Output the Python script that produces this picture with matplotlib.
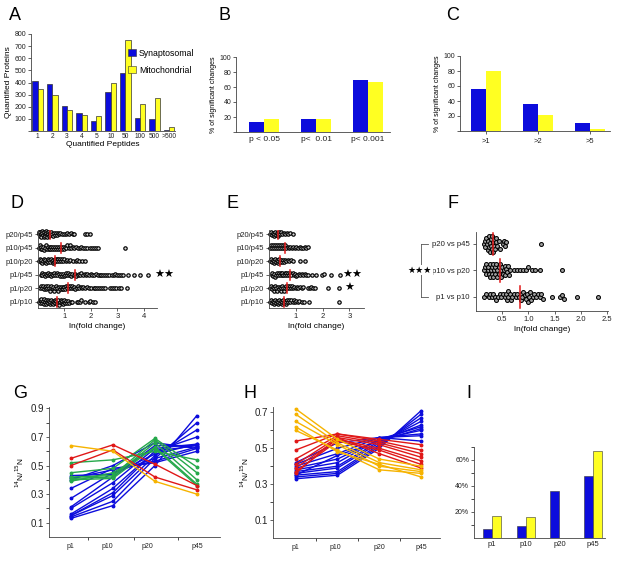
import numpy as np
import matplotlib
matplotlib.use('Agg')
import matplotlib.pyplot as plt
from matplotlib.lines import Line2D
from matplotlib.patches import Patch

plt.rcParams['font.family'] = ['Liberation Sans', 'DejaVu Sans']

W, H = 624, 562
BLUE = '#0c0cdc'
YELLOW = '#ffff22'
RED = '#e01818'
ORANGE = '#f6b300'
GREEN = '#25a84a'

# --- A: quantified proteins per number of quantified peptides ---
pep_bins = ['1', '2', '3', '4', '5', '10', '50', '100', '500', '>500']
syn_proteins = [410, 390, 205, 145, 85, 320, 475, 110, 100, 12]
mito_proteins = [350, 300, 170, 135, 120, 400, 750, 220, 270, 30]

# --- B / C: % of significant changes ---
p_labels = ['p < 0.05', 'p<  0.01', 'p< 0.001']
syn_p = [14, 17, 70]
mito_p = [17, 18, 67]
fold_labels = ['>1', '>2', '>5']
syn_fold = [56, 36, 11]
mito_fold = [80, 21, 3]

# --- D / E: ln(fold change) per comparison (bottom row first) ---
ratio_labels = ['p1/p10', 'p1/p20', 'p1/p45', 'p10/p20', 'p10/p45', 'p20/p45']
d_p1_p10 = [0.04, 0.06, 0.09, 0.12, 0.13, 0.16, 0.2, 0.21, 0.24, 0.27, 0.29, 0.3, 0.34, 0.37, 0.39,
            0.42, 0.44, 0.47, 0.5, 0.52, 0.55, 0.58, 0.6, 0.63, 0.66, 0.68, 0.71, 0.74, 0.77, 0.79,
            0.81, 0.84, 0.86, 0.89, 0.92, 0.95, 0.97, 1.0, 1.03, 1.06, 1.1, 1.14, 1.18, 1.23, 1.3,
            1.46, 1.53, 1.6, 1.64, 1.79, 1.93, 1.98, 2.09, 2.17]
d_p1_p20 = [0.08, 0.11, 0.15, 0.18, 0.21, 0.25, 0.29, 0.31, 0.35, 0.39, 0.42, 0.45, 0.49, 0.51, 0.55,
            0.58, 0.61, 0.65, 0.69, 0.72, 0.75, 0.78, 0.82, 0.86, 0.89, 0.93, 0.96, 1.0, 1.03, 1.06,
            1.1, 1.14, 1.17, 1.21, 1.26, 1.29, 1.33, 1.38, 1.41, 1.46, 1.5, 1.56, 1.61, 1.66, 1.72,
            1.79, 1.85, 1.93, 2.01, 2.1, 2.17, 2.24, 2.31, 2.38, 2.46, 2.53, 2.72, 2.79, 2.88, 2.96,
            3.05, 3.14, 3.36]
d_p1_p45 = [0.1, 0.14, 0.17, 0.22, 0.26, 0.29, 0.34, 0.38, 0.41, 0.46, 0.5, 0.53, 0.58, 0.62, 0.66,
            0.7, 0.73, 0.78, 0.82, 0.86, 0.9, 0.93, 0.97, 1.02, 1.06, 1.1, 1.13, 1.17, 1.22, 1.26,
            1.3, 1.35, 1.4, 1.44, 1.5, 1.55, 1.6, 1.64, 1.7, 1.76, 1.82, 1.87, 1.94, 2.0, 2.05,
            2.12, 2.18, 2.25, 2.33, 2.4, 2.47, 2.55, 2.62, 2.69, 2.78, 2.86, 2.92, 3.0, 3.08, 3.15,
            3.23, 3.41, 3.62, 3.86, 4.15]
d_p10_p20 = [0.04, 0.07, 0.1, 0.12, 0.16, 0.19, 0.21, 0.25, 0.28, 0.3, 0.34, 0.37, 0.39, 0.43, 0.46,
             0.49, 0.52, 0.55, 0.57, 0.6, 0.63, 0.66, 0.7, 0.73, 0.77, 0.8, 0.84, 0.88, 0.92, 0.96,
             1.0, 1.05, 1.1, 1.16, 1.22, 1.31, 1.42, 1.48, 1.56, 1.68, 1.76]
d_p10_p45 = [0.04, 0.07, 0.1, 0.13, 0.17, 0.2, 0.23, 0.27, 0.3, 0.33, 0.37, 0.4, 0.44, 0.47, 0.51,
             0.54, 0.58, 0.61, 0.65, 0.68, 0.72, 0.75, 0.79, 0.82, 0.86, 0.9, 0.94, 0.98, 1.02, 1.07,
             1.11, 1.16, 1.2, 1.25, 1.31, 1.37, 1.43, 1.5, 1.57, 1.63, 1.7, 1.78, 1.86, 1.95, 2.03,
             2.12, 2.2, 2.28, 3.3]
d_p20_p45 = [0.03, 0.05, 0.07, 0.09, 0.11, 0.13, 0.15, 0.17, 0.19, 0.21, 0.23, 0.25, 0.27, 0.29, 0.31,
             0.33, 0.35, 0.37, 0.39, 0.41, 0.44, 0.47, 0.5, 0.53, 0.56, 0.59, 0.63, 0.67, 0.71, 0.75,
             0.8, 0.85, 0.9, 0.97, 1.04, 1.1, 1.17, 1.23, 1.31, 1.38, 1.76, 1.86, 1.97]
d_rows = [d_p1_p10, d_p1_p20, d_p1_p45, d_p10_p20, d_p10_p45, d_p20_p45]

e_p1_p10 = [0.05, 0.08, 0.11, 0.14, 0.17, 0.2, 0.23, 0.26, 0.29, 0.32, 0.35, 0.38, 0.41, 0.44, 0.47,
            0.5, 0.53, 0.56, 0.59, 0.62, 0.65, 0.68, 0.72, 0.76, 0.8, 0.84, 0.88, 0.92, 0.97, 1.02,
            1.07, 1.13, 1.22, 1.3, 1.5, 2.6]
e_p1_p20 = [0.05, 0.08, 0.11, 0.14, 0.17, 0.2, 0.24, 0.27, 0.3, 0.33, 0.37, 0.4, 0.43, 0.46, 0.5,
            0.53, 0.56, 0.6, 0.63, 0.67, 0.7, 0.74, 0.78, 0.82, 0.86, 0.9, 0.95, 1.0, 1.05, 1.1,
            1.16, 1.22, 1.28, 1.45, 1.52, 1.58, 1.64, 1.72, 2.2, 2.6]
e_p1_p45 = [0.1, 0.13, 0.16, 0.19, 0.22, 0.26, 0.29, 0.33, 0.36, 0.4, 0.43, 0.47, 0.5, 0.54, 0.58,
            0.61, 0.65, 0.69, 0.72, 0.76, 0.8, 0.84, 0.88, 0.92, 0.97, 1.01, 1.06, 1.11, 1.16, 1.22,
            1.28, 1.34, 1.4, 1.47, 1.6, 1.75, 1.98, 2.04, 2.3, 2.65]
e_p10_p20 = [0.05, 0.08, 0.11, 0.14, 0.17, 0.2, 0.23, 0.26, 0.29, 0.32, 0.35, 0.38, 0.41, 0.44, 0.48,
             0.52, 0.56, 0.6, 0.65, 0.7, 0.76, 0.82, 0.9, 1.15, 1.35]
e_p10_p45 = [0.05, 0.08, 0.12, 0.15, 0.19, 0.22, 0.26, 0.29, 0.33, 0.37, 0.41, 0.45, 0.49, 0.53, 0.57,
             0.61, 0.65, 0.7, 0.75, 0.8, 0.85, 0.9, 0.96, 1.02, 1.08, 1.14, 1.2, 1.28, 1.34, 1.4,
             1.46]
e_p20_p45 = [0.05, 0.08, 0.11, 0.14, 0.17, 0.2, 0.23, 0.26, 0.29, 0.32, 0.35, 0.38, 0.42, 0.46, 0.5,
             0.55, 0.6, 0.66, 0.72, 0.78, 0.9]
e_rows = [e_p1_p10, e_p1_p20, e_p1_p45, e_p10_p20, e_p10_p45, e_p20_p45]

# --- F: consecutive stages ---
f_labels = ['p1 vs p10', 'p10 vs p20', 'p20 vs p45']
f_p1_p10 = [0.16, 0.2, 0.24, 0.27, 0.3, 0.33, 0.36, 0.38, 0.42, 0.45, 0.48, 0.52, 0.56, 0.58, 0.6,
            0.61, 0.62, 0.64, 0.66, 0.69, 0.72, 0.76, 0.79, 0.82, 0.85, 0.86, 0.88, 0.9, 0.93, 0.96,
            0.98, 1.0, 1.01, 1.03, 1.05, 1.08, 1.1, 1.14, 1.18, 1.22, 1.25, 1.27, 1.46, 1.6, 1.65,
            1.68, 1.92, 2.32]
f_p10_p20 = [0.15, 0.17, 0.19, 0.2, 0.22, 0.23, 0.25, 0.26, 0.27, 0.28, 0.3, 0.31, 0.32, 0.33, 0.35,
             0.36, 0.37, 0.39, 0.4, 0.41, 0.43, 0.44, 0.45, 0.47, 0.48, 0.5, 0.51, 0.53, 0.55, 0.56,
             0.58, 0.6, 0.61, 0.63, 0.65, 0.72, 0.78, 0.84, 0.9, 0.96, 1.0, 1.06, 1.12, 1.22, 1.65]
f_p20_p45 = [0.15, 0.17, 0.18, 0.2, 0.21, 0.22, 0.23, 0.24, 0.25, 0.26, 0.27, 0.28, 0.29, 0.3, 0.31,
             0.32, 0.33, 0.34, 0.35, 0.36, 0.38, 0.39, 0.41, 0.43, 0.45, 0.51, 0.53, 0.56, 0.58, 1.25]
f_rows = [f_p1_p10, f_p10_p20, f_p20_p45]

# --- G / H: 14N/15N profiles over development ---
stages = ['p1', 'p10', 'p20', 'p45']
g_blue = [[0.13, 0.22, 0.50, 0.85], [0.14, 0.25, 0.55, 0.80], [0.15, 0.29, 0.57, 0.75],
          [0.16, 0.34, 0.60, 0.70], [0.20, 0.38, 0.62, 0.65], [0.21, 0.42, 0.64, 0.64],
          [0.27, 0.45, 0.55, 0.63], [0.34, 0.48, 0.52, 0.60], [0.40, 0.50, 0.66, 0.62],
          [0.43, 0.44, 0.58, 0.65], [0.15, 0.31, 0.60, 0.64], [0.41, 0.47, 0.53, 0.62]]
g_green = [[0.52, 0.54, 0.60, 0.54], [0.45, 0.48, 0.69, 0.49], [0.42, 0.43, 0.68, 0.45],
           [0.41, 0.42, 0.66, 0.40], [0.40, 0.41, 0.63, 0.37], [0.39, 0.45, 0.62, 0.36]]
g_red = [[0.55, 0.645, 0.51, 0.36], [0.50, 0.61, 0.42, 0.33]]
g_orange = [[0.64, 0.60, 0.39, 0.30]]

h_blue = [[0.33, 0.35, 0.50, 0.71], [0.34, 0.36, 0.51, 0.69], [0.35, 0.37, 0.52, 0.67],
          [0.36, 0.39, 0.53, 0.65], [0.37, 0.40, 0.54, 0.63], [0.38, 0.42, 0.55, 0.62],
          [0.39, 0.44, 0.55, 0.60], [0.40, 0.47, 0.56, 0.58], [0.41, 0.50, 0.56, 0.57],
          [0.42, 0.53, 0.56, 0.54], [0.35, 0.46, 0.54, 0.61]]
h_red = [[0.54, 0.58, 0.55, 0.52], [0.49, 0.58, 0.54, 0.49], [0.44, 0.57, 0.53, 0.47],
         [0.41, 0.56, 0.52, 0.45], [0.39, 0.55, 0.50, 0.43], [0.37, 0.54, 0.49, 0.41],
         [0.36, 0.56, 0.47, 0.39]]
h_orange = [[0.72, 0.55, 0.44, 0.40], [0.69, 0.53, 0.42, 0.38], [0.65, 0.52, 0.40, 0.37],
            [0.60, 0.49, 0.38, 0.36], [0.62, 0.48, 0.41, 0.34]]

# --- I ---
i_syn = [7, 9, 36, 48]
i_mito = [17, 16, 0, 67]


fig = plt.figure(figsize=(W / 100, H / 100), dpi=100)


def add_ax(x0, y0, x1, y1):
    # pixel box -> figure fraction
    return fig.add_axes([x0 / W, 1 - y1 / H, (x1 - x0) / W, (y1 - y0) / H])


def style(ax, size=5.5):
    for s in ['top', 'right']:
        ax.spines[s].set_visible(False)
    for s in ['left', 'bottom']:
        ax.spines[s].set_linewidth(0.6)
        ax.spines[s].set_color('#444444')
    ax.tick_params(length=2, width=0.5, labelsize=size, pad=1.5, colors='#222222')


def letter(x, y, s):
    fig.text(x / W, 1 - y / H, s, fontsize=13, ha='center', va='center')


def pair_bars(ax, syn, mito, w, edge, lw):
    x = np.arange(len(syn))
    ax.bar(x - w / 2, syn, w, color=BLUE, edgecolor=edge, linewidth=lw)
    ax.bar(x + w / 2, mito, w, color=YELLOW, edgecolor=edge, linewidth=lw)
    return x


def swarm(vals, pxu, diam, step, maxoff):
    # simple beeswarm layout in pixel space
    xs = np.sort(np.asarray(vals, float))
    placed = []
    offs = []
    for i, v in enumerate(xs):
        x = v * pxu
        best = None
        for k in range(0, int(maxoff / step) + 1):
            for y in ([0.0] if k == 0 else [k * step, -k * step]):
                if all((x - px) ** 2 + (y - py) ** 2 >= diam ** 2 for px, py in placed):
                    best = y
                    break
            if best is not None:
                break
        if best is None:
            best = (((i * 0.618) % 1) * 2 - 1) * maxoff
        placed.append((x, best))
        offs.append(best)
    return xs, np.array(offs)


# ---------------- A ----------------
axA = add_ax(31, 34, 175, 131)
x = pair_bars(axA, syn_proteins, mito_proteins, 0.36, '#333333', 0.5)
axA.set_xlim(-0.46, 9.4)
axA.set_ylim(0, 800)
axA.set_yticks(range(0, 801, 100))
axA.set_yticklabels([''] + [str(v) for v in range(100, 801, 100)])
axA.set_xticks(x)
axA.set_xticklabels(pep_bins)
style(axA, 5)
axA.tick_params(axis='x', length=0, labelsize=4.8)
axA.set_ylabel('Quantified Proteins', fontsize=6, labelpad=2)
axA.set_xlabel('Quantified Peptides', fontsize=6, labelpad=1)
axA.legend(handles=[Patch(facecolor=BLUE, edgecolor='#333333', lw=0.4, label='Synaptosomal'),
                    Patch(facecolor=YELLOW, edgecolor='#333333', lw=0.4, label='Mitochondrial')],
           loc='upper right', bbox_to_anchor=(1.19, 0.93), frameon=False, fontsize=6.3,
           handlelength=0.9, handleheight=0.9, handletextpad=0.4, labelspacing=0.9)
letter(15, 15, 'A')

# ---------------- B ----------------
axB = add_ax(236, 57, 390, 132)
x = pair_bars(axB, syn_p, mito_p, 0.29, 'none', 0)
axB.set_xlim(-0.54, 2.42)
axB.set_ylim(0, 100)
axB.set_yticks(range(0, 101, 20))
axB.set_yticklabels([''] + [str(v) for v in range(20, 101, 20)])
axB.set_xticks(x)
axB.set_xticklabels(p_labels)
style(axB, 5)
axB.tick_params(axis='x', length=0, labelsize=6, pad=3)
axB.set_ylabel('% of significant changes', fontsize=5, labelpad=2)
letter(224, 15, 'B')

# ---------------- C ----------------
axC = add_ax(460, 56, 610, 131)
x = pair_bars(axC, syn_fold, mito_fold, 0.29, 'none', 0)
axC.set_xlim(-0.5, 2.38)
axC.set_ylim(0, 100)
axC.set_yticks(range(0, 101, 20))
axC.set_yticklabels([''] + [str(v) for v in range(20, 101, 20)])
axC.set_xticks(x)
axC.set_xticklabels(fold_labels)
style(axC, 5)
axC.tick_params(axis='x', labelsize=5.5, pad=3)
axC.set_ylabel('% of significant changes', fontsize=5, labelpad=2)
letter(453, 15, 'C')


# ---------------- D / E ----------------
def fold_panel(ax, rows, pxu, xmax, xticks):
    for r, vals in enumerate(rows):
        xs, offs = swarm(vals, pxu, 1.7, 1.1, 3.4)
        ax.scatter(xs, r + offs / 13.6, s=6, facecolor='#d8d8d8', edgecolor='black',
                   linewidth=0.85, zorder=2, clip_on=False)
        m = np.median(vals)
        ax.plot([m, m], [r - 0.36, r + 0.36], color=RED, lw=1.1, zorder=3)
    ax.set_xlim(0, xmax)
    ax.set_ylim(-0.45, 5.3)
    ax.set_yticks(range(len(rows)))
    ax.set_yticklabels(ratio_labels)
    ax.set_xticks(xticks)
    style(ax, 5.5)
    ax.set_xlabel('ln(fold change)', fontsize=6, labelpad=2)


axD = add_ax(38, 230, 157, 308)
fold_panel(axD, d_rows, 26.5, 4.5, [1, 2, 3, 4])
axD.text(4.78, 2, '★★', fontsize=8, ha='center', va='center', clip_on=False)
letter(17, 203, 'D')

axE = add_ax(269, 230, 364, 308)
fold_panel(axE, e_rows, 26.7, 3.55, [1, 2, 3])
axE.text(3.12, 2, '★★', fontsize=8, ha='center', va='center', clip_on=False)
axE.text(3.0, 1, '★', fontsize=8, ha='center', va='center', clip_on=False)
letter(233, 203, 'E')

# ---------------- F ----------------
axF = add_ax(476, 232, 608, 311)
for r, vals in enumerate(f_rows):
    xs, offs = swarm(vals, 52.4, 3.0, 1.6, 9.5)
    axF.scatter(xs, r + offs / 26.5, s=8, facecolor='#a0a0a0', edgecolor='black',
                linewidth=0.75, zorder=2, clip_on=False)
    m = np.median(vals)
    axF.plot([m, m], [r - 0.42, r + 0.42], color=RED, lw=1.1, zorder=3)
axF.set_xlim(0, 2.52)
axF.set_ylim(-0.53, 2.45)
axF.set_yticks(range(3))
axF.set_yticklabels(f_labels)
axF.set_xticks([0.5, 1.0, 1.5, 2.0, 2.5])
axF.set_xticklabels(['0.5', '1.0', '1.5', '2.0', '2.5'])
style(axF, 5.5)
axF.tick_params(axis='y', labelsize=5.6, pad=2.5)
axF.set_xlabel('ln(fold change)', fontsize=6, labelpad=2)
# bracket and stars
for y0 in [244, 297]:
    fig.add_artist(Line2D([421 / W, 428 / W], [1 - y0 / H, 1 - y0 / H], color='#555555', lw=0.6))
fig.add_artist(Line2D([421 / W, 421 / W], [1 - 244 / H, 1 - 297 / H], color='#555555', lw=0.6))
fig.text(420 / W, 1 - 270 / H, '★★★', fontsize=6.5, ha='center', va='center',
         bbox=dict(facecolor='white', edgecolor='none', pad=0.3))
letter(453, 203, 'F')


# ---------------- G / H ----------------
def profile_panel(ax, groups, ylim, yticks, yminor, label_pos, minor_x):
    for lines, col in groups:
        for vals in lines:
            ax.plot(range(4), vals, color=col, lw=1, marker='o', ms=1.8)
    ax.set_ylim(*ylim)
    ax.set_yticks(yticks)
    ax.set_yticklabels(['%.1f' % v for v in yticks])
    ax.set_yticks(yminor, minor=True)
    ax.set_xticks(label_pos)
    ax.set_xticklabels(stages)
    ax.set_xticks(minor_x, minor=True)
    style(ax, 7)
    ax.tick_params(axis='x', length=0, labelsize=5, pad=4)
    ax.tick_params(which='minor', length=2, width=0.5)
    ax.set_ylabel('$^{14}$N/$^{15}$N', fontsize=6, labelpad=3)


axG = add_ax(49, 407, 220, 537)
profile_panel(axG, [(g_blue, BLUE), (g_green, GREEN), (g_red, RED), (g_orange, ORANGE)],
              (0.0, 0.91), [0.1, 0.3, 0.5, 0.7, 0.9], [0.2, 0.4, 0.6, 0.8],
              [0, 0.86, 1.83, 3], [0.42, 1.5, 2.55])
axG.set_xlim(-0.52, 3.55)
letter(20, 393, 'G')

axH = add_ax(273, 407, 440, 538)
profile_panel(axH, [(h_blue, BLUE), (h_red, RED), (h_orange, ORANGE)],
              (0.0, 0.73), [0.1, 0.3, 0.5, 0.7], [0.2, 0.4, 0.6],
              [0, 0.95, 2, 3], [0.49, 1.5, 2.5])
axH.set_xlim(-0.54, 3.45)
letter(250, 393, 'H')

# ---------------- I ----------------
axI = add_ax(474, 447, 605, 538)
x = pair_bars(axI, i_syn, i_mito, 0.27, '#333333', 0.4)
axI.set_xlim(-0.53, 3.35)
axI.set_ylim(0, 70)
axI.set_yticks([20, 40, 60])
axI.set_yticklabels(['20%', '40%', '60%'])
axI.set_yticks([10, 30, 50, 70], minor=True)
axI.set_xticks(x)
axI.set_xticklabels(stages)
style(axI, 5)
axI.tick_params(which='minor', length=2, width=0.5)
axI.tick_params(axis='x', length=0, labelsize=5.5, pad=2)
letter(469, 393, 'I')

fig.savefig('out.png', dpi=100)
